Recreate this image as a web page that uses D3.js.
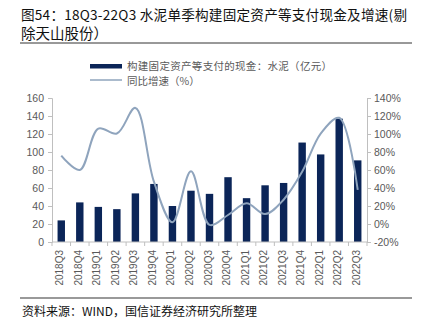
<!DOCTYPE html>
<html>
<head>
<meta charset="utf-8">
<script src="https://cdn.jsdelivr.net/npm/d3@7/dist/d3.min.js"></script>
<style>
  html, body { margin: 0; padding: 0; background: #fff; }
  svg { display: block; }
</style>
</head>
<body>
<svg id="chart" width="421" height="330"></svg>
<script>
// Quarterly categories
const quarters = ["2018Q3","2018Q4","2019Q1","2019Q2","2019Q3","2019Q4","2020Q1","2020Q2","2020Q3","2020Q4",
                  "2021Q1","2021Q2","2021Q3","2021Q4","2022Q1","2022Q2","2022Q3"];
// Cash paid for fixed assets, cement (100m CNY)
const capex = [24, 44, 39, 36.5, 54, 64.5, 40, 57, 53.5, 72, 48.7, 63, 65.6, 110.5, 97.3, 137, 90.7];
// YoY growth (%)
const yoy = [76, 60, 106, 100.5, 129, 47, 2, 58.5, -1, 10, 23, 11, 27, 58, 100.5, 118, 38];
// Axis ticks
const leftTicks = [0, 20, 40, 60, 80, 100, 120, 140, 160];
const rightTicks = [-20, 0, 20, 40, 60, 80, 100, 120, 140];

const svg = d3.select("#chart");
const labelFont = "'Liberation Sans', Arial, sans-serif";
const cjkFont = "'Noto Sans CJK SC', sans-serif";

// Title
const title = svg.append("g").attr("font-family", cjkFont).attr("font-size", 13.6)
  .attr("fill", "#111");
title.append("text").attr("x", 21).attr("y", 20)
  .attr("textLength", 386).attr("lengthAdjust", "spacing")
  .text("图54：18Q3-22Q3 水泥单季构建固定资产等支付现金及增速(剔");
title.append("text").attr("x", 21).attr("y", 39).attr("font-size", 14.5).text("除天山股份）");
svg.append("line").attr("x1", 20).attr("x2", 412).attr("y1", 43).attr("y2", 43)
  .attr("stroke", "#333").attr("stroke-width", 1);

// Plot area
const plotL = 52, plotR = 367, plotT = 98, plotB = 242;
const x = d3.scaleBand().domain(quarters).range([plotL, plotR]);
const y = d3.scaleLinear().domain([0, 160]).range([plotB, plotT]);
const y2 = d3.scaleLinear().domain([-20, 140]).range([plotB, plotT]);

// Bars
const bw = x.bandwidth() * 0.4;
svg.append("g").selectAll("rect").data(quarters).join("rect")
  .attr("x", d => x(d) + (x.bandwidth() - bw) / 2)
  .attr("y", (d, i) => y(capex[i]))
  .attr("width", bw)
  .attr("height", (d, i) => y(0) - y(capex[i]))
  .attr("fill", "#0b2558");

// Growth line
const line = d3.line()
  .x((d, i) => x(quarters[i]) + x.bandwidth() / 2)
  .y(d => y2(d))
  .curve(d3.curveCatmullRom.alpha(0.5));
svg.append("path").datum(yoy).attr("d", line)
  .attr("fill", "none").attr("stroke", "#8fa4bd").attr("stroke-width", 2);

// Left axis
const gl = svg.append("g").attr("transform", `translate(${plotL},0)`)
  .call(d3.axisLeft(y).tickValues(leftTicks).tickSize(4).tickPadding(4));
// Right axis
const gr = svg.append("g").attr("transform", `translate(${plotR},0)`)
  .call(d3.axisRight(y2).tickValues(rightTicks).tickSize(4).tickPadding(3)
    .tickFormat(d => (d < 0 ? "-" + Math.abs(d) : d) + "%"));
// Bottom axis (ticks at category boundaries)
const gb = svg.append("g").attr("transform", `translate(0,${plotB})`);
gb.append("line").attr("x1", plotL).attr("x2", plotR).attr("stroke", "#bfbfbf");
gb.selectAll("line.tk").data(quarters.concat([null])).join("line").attr("class", "tk")
  .attr("x1", (d, i) => plotL + i * x.step()).attr("x2", (d, i) => plotL + i * x.step())
  .attr("y1", 0).attr("y2", 4).attr("stroke", "#bfbfbf");
gb.selectAll("text").data(quarters).join("text")
  .attr("transform", d => `translate(${x(d) + x.bandwidth() / 2 + 2},8) rotate(-90)`)
  .attr("text-anchor", "end")
  .attr("font-family", labelFont).attr("font-size", 10).attr("fill", "#595959")
  .text(d => d);

[gl, gr].forEach(g => {
  g.select(".domain").attr("stroke", "#bfbfbf");
  g.selectAll(".tick line").attr("stroke", "#bfbfbf");
  g.selectAll(".tick text").attr("font-family", labelFont).attr("font-size", 10.5).attr("fill", "#595959");
});

// Legend
const lg = svg.append("g").attr("font-family", cjkFont).attr("font-size", 10.5).attr("fill", "#595959");
lg.append("rect").attr("x", 90).attr("y", 64).attr("width", 32).attr("height", 4.5).attr("fill", "#0b2558");
lg.append("text").attr("x", 127).attr("y", 69.5)
  .attr("textLength", 205).attr("lengthAdjust", "spacing")
  .text("构建固定资产等支付的现金：水泥（亿元）");
lg.append("line").attr("x1", 90).attr("x2", 122).attr("y1", 80).attr("y2", 80)
  .attr("stroke", "#8fa4bd").attr("stroke-width", 1.5);
lg.append("text").attr("x", 127).attr("y", 85).text("同比增速（%）");

// Footer
svg.append("line").attr("x1", 20).attr("x2", 412).attr("y1", 298).attr("y2", 298)
  .attr("stroke", "#777").attr("stroke-width", 1.5);
svg.append("text").attr("x", 22).attr("y", 316)
  .attr("font-family", cjkFont).attr("font-size", 12).attr("fill", "#111")
  .text("资料来源：WIND，国信证券经济研究所整理");
</script>
</body>
</html>
